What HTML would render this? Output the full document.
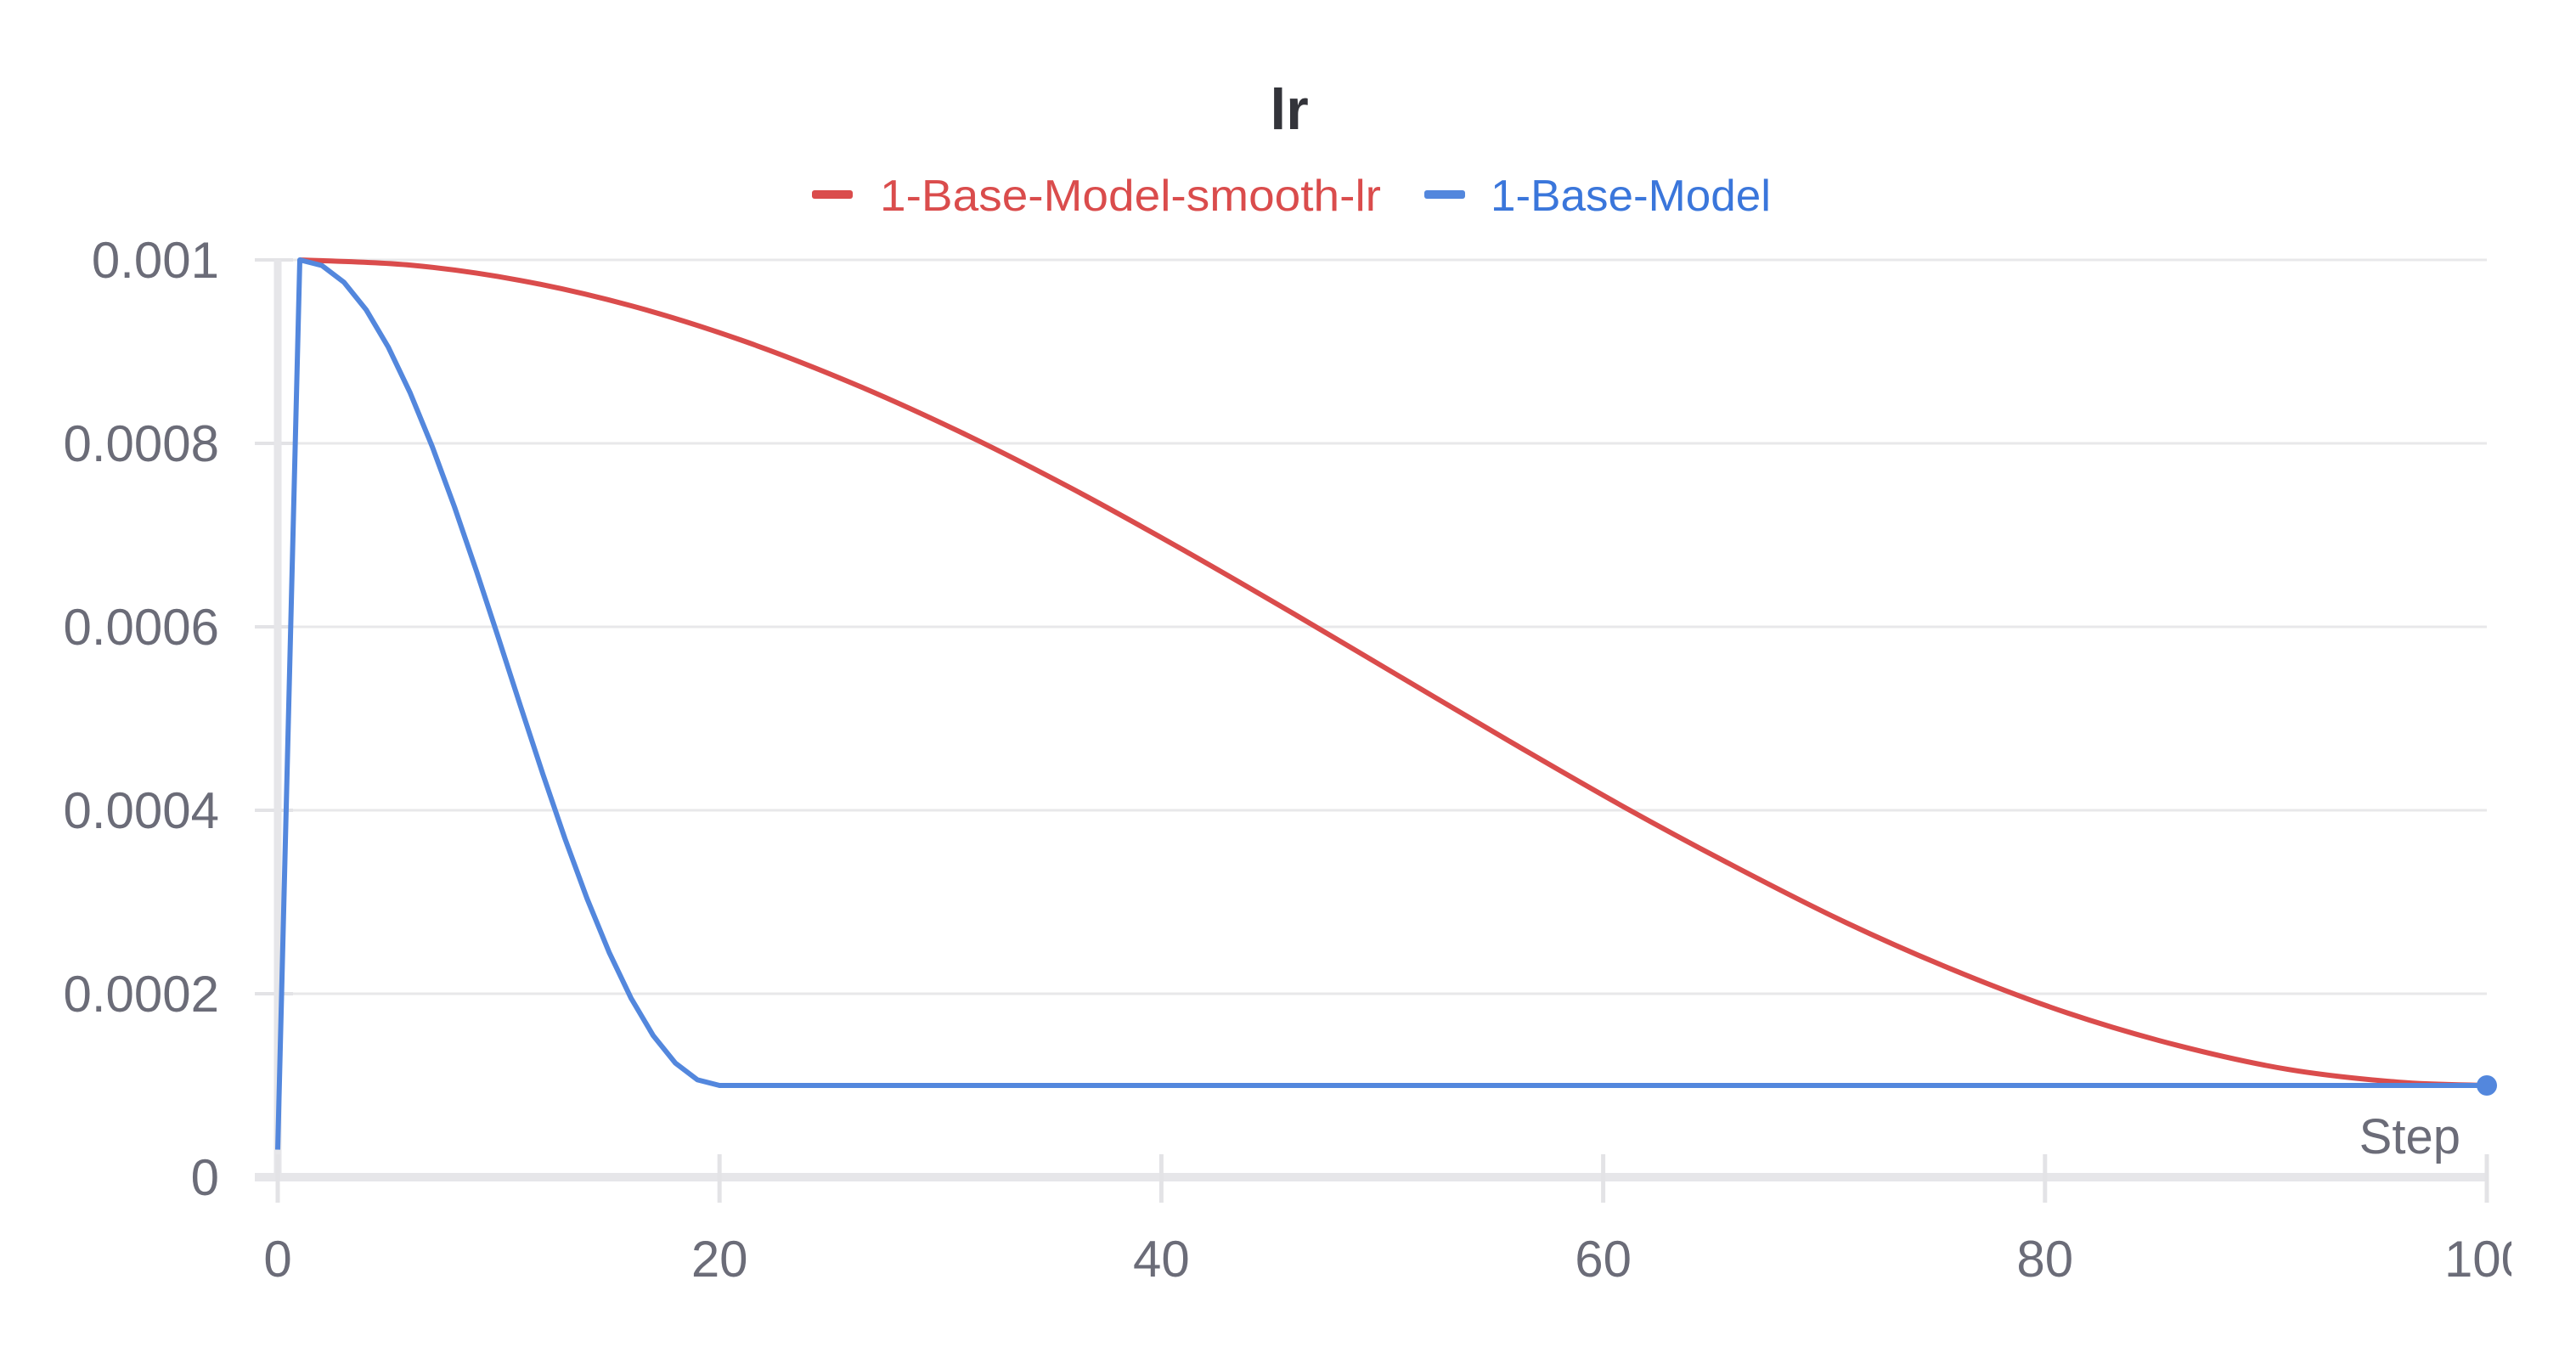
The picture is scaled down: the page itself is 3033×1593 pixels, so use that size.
<!DOCTYPE html>
<html><head><meta charset="utf-8"><style>
html,body{margin:0;padding:0;background:#fff;width:3033px;height:1593px;overflow:hidden}
svg{display:block}
text{font-family:"Liberation Sans",sans-serif}
</style></head><body>
<svg id="chart" width="3033" height="1593" viewBox="0 0 3033 1593" xmlns="http://www.w3.org/2000/svg">
<defs><clipPath id="clipR"><rect x="0" y="0" width="2957" height="1593"/></clipPath></defs>
<text x="1518" y="152" text-anchor="middle" font-size="68" font-weight="bold" fill="#33343a">lr</text>
<g>
<g>
<rect x="956" y="224" width="48" height="10" rx="3" fill="#da4c4c"/>
<text x="1036" y="248" font-size="52" fill="#da4c4c" textLength="590" lengthAdjust="spacingAndGlyphs">1-Base-Model-smooth-lr</text>
</g>
<g>
<rect x="1677" y="224" width="48" height="10" rx="3" fill="#5387dd"/>
<text x="1755" y="248" font-size="52" fill="#3a76db" textLength="330" lengthAdjust="spacingAndGlyphs">1-Base-Model</text>
</g>
</g>
<g id="grid"></g>
<g id="axes" clip-path="url(#clipR)"></g>
<g id="series"></g>
</svg>
<script>
const xTicks = [0, 20, 40, 60, 80, 100];
const yTicks = [0, 0.0002, 0.0004, 0.0006, 0.0008, 0.001];
const yTickLabels = ["0", "0.0002", "0.0004", "0.0006", "0.0008", "0.001"];
const redSteps = [1, 6, 11, 16, 21, 26, 31, 36, 41, 46, 51, 56, 61, 66, 71, 76, 81, 86, 91, 96, 100];
const redValues = [0.001, 0.00099434, 0.00097753, 0.00094997, 0.00091237, 0.00086566, 0.00081122, 0.00075009, 0.00068365, 0.00061410, 0.00054286, 0.00047186, 0.00040283, 0.00033808, 0.00027744, 0.00022446, 0.00017914, 0.00014369, 0.00011752, 0.00010362, 0.0001];
const blueSteps = [0, 1, 2, 3, 4, 5, 6, 7, 8, 9, 10, 11, 12, 13, 14, 15, 16, 17, 18, 19, 20, 100];
const blueValues = [0.00003, 0.001, 0.00099386, 0.00097562, 0.00094576, 0.00090511, 0.00085478, 0.00079613, 0.00073077, 0.00066047, 0.00058716, 0.00051284, 0.00043953, 0.00036923, 0.00030387, 0.00024522, 0.00019489, 0.00015424, 0.00012438, 0.00010614, 0.0001, 0.0001];

const X0 = 327, X1 = 2928, Y0 = 1386, Y1 = 306;
const xs = v => X0 + (v - 0) / 100 * (X1 - X0);
const ys = v => Y0 - v / 0.001 * (Y0 - Y1);
const NS = "http://www.w3.org/2000/svg";
function mk(tag, attrs, parent) {
  const e = document.createElementNS(NS, tag);
  for (const k in attrs) e.setAttribute(k, attrs[k]);
  parent.appendChild(e);
  return e;
}
const grid = document.getElementById('grid');
const axes = document.getElementById('axes');
const series = document.getElementById('series');

yTicks.forEach((t, i) => {
  const y = ys(t);
  if (i > 0) {
    const g = mk('line', {x1: 300, x2: X1, y1: y, y2: y, stroke: '#e8e8ea', 'stroke-width': 3}, grid);
    
    
  }
  const tk = mk('line', {x1: 300, x2: 345, y1: y, y2: y, stroke: '#e3e3e6', 'stroke-width': 4}, axes);
  
  
  const lb = mk('text', {x: 258, y: y + 21, 'text-anchor': 'end', 'font-size': 60, fill: '#6b6c78'}, axes);
  lb.textContent = yTickLabels[i];
  
  
});
const ya = mk('line', {x1: X0, x2: X0, y1: Y1, y2: Y0, stroke: '#e6e6e9', 'stroke-width': 9}, axes);


const xa = mk('line', {x1: 300, x2: X1, y1: Y0, y2: Y0, stroke: '#e6e6e9', 'stroke-width': 10}, axes);


xTicks.forEach(t => {
  const x = xs(t);
  const tk = mk('line', {x1: x, x2: x, y1: 1359, y2: 1416, stroke: '#e3e3e6', 'stroke-width': 5}, axes);
  
  
  const lb = mk('text', {x: x, y: 1503, 'text-anchor': 'middle', 'font-size': 60, fill: '#6b6c78'}, axes);
  lb.textContent = String(t);
  
  
});
const st = mk('text', {x: 2897, y: 1358, 'text-anchor': 'end', 'font-size': 58, fill: '#6b6c78'}, axes);
st.textContent = 'Step';



function smoothPath(sx, sv) {
  const p = sx.map((s, i) => [xs(s), ys(sv[i])]);
  let d = 'M' + p[0][0] + ',' + p[0][1];
  for (let i = 0; i < p.length - 1; i++) {
    const a = p[i - 1] || p[i], b = p[i], c = p[i + 1], e = p[i + 2] || c;
    const c1 = [b[0] + (c[0] - a[0]) / 6, b[1] + (c[1] - a[1]) / 6];
    const c2 = [c[0] - (e[0] - b[0]) / 6, c[1] - (e[1] - b[1]) / 6];
    d += ' C' + c1 + ' ' + c2 + ' ' + c;
  }
  return d;
}
function linePath(sx, sv) {
  return sx.map((s, i) => (i ? 'L' : 'M') + xs(s) + ',' + ys(sv[i])).join(' ');
}
const red = mk('path', {d: smoothPath(redSteps, redValues), fill: 'none', stroke: '#da4c4c', 'stroke-width': 6, 'stroke-linejoin': 'round'}, series);


const blue = mk('path', {d: linePath(blueSteps, blueValues), fill: 'none', stroke: '#5387dd', 'stroke-width': 6, 'stroke-linejoin': 'round'}, series);


const li = blueSteps.length - 1;
const dot = mk('circle', {cx: xs(blueSteps[li]), cy: ys(blueValues[li]), r: 12, fill: '#5387dd'}, series);


</script>
</body></html>
